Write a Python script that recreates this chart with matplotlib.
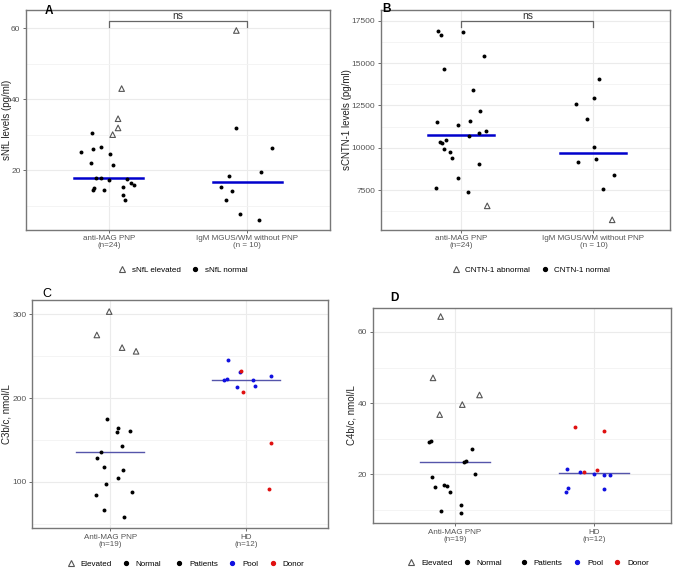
import matplotlib.pyplot as plt
from matplotlib.lines import Line2D
import numpy as np

plt.rcParams['font.family'] = ['Liberation Sans', 'DejaVu Sans']

# ---------- data ----------
# Panel A: sNfL (pg/ml)
A_CATS = ["anti-MAG PNP\n(n=24)", "IgM MGUS/WM without PNP\n(n = 10)"]
A_G1_TRI_X = [1.092, 1.066, 1.066, 1.027]
A_G1_TRI_Y = [43.0, 34.5, 31.9, 30.0]
A_G1_DOT_X = [0.876, 0.886, 0.944, 0.799, 1.005, 0.867, 1.029, 0.910, 0.944, 0.998,
              1.133, 1.160, 1.184, 1.100, 0.893, 0.886, 0.964, 1.104, 1.114]
A_G1_DOT_Y = [30.6, 26.0, 26.6, 25.0, 24.4, 22.1, 21.5, 17.7, 17.7, 17.2,
              17.5, 16.3, 15.7, 15.3, 14.8, 14.3, 14.3, 13.0, 11.6]
A_G2_TRI_X = [1.922]
A_G2_TRI_Y = [59.4]
A_G2_DOT_X = [1.920, 2.177, 2.104, 1.871, 1.813, 1.891, 1.850, 1.947, 2.087]
A_G2_DOT_Y = [32.0, 26.3, 19.4, 18.2, 15.1, 14.2, 11.6, 7.5, 5.8]
A_MEDIANS = [17.7, 16.6]

# Panel B: sCNTN-1 (pg/ml)
B_CATS = A_CATS
B_G1_TRI_X = [1.195]
B_G1_TRI_Y = [6580]
B_G1_DOT_X = [0.823, 0.841, 1.013, 1.172, 0.871, 1.091, 1.142, 0.815, 1.066, 0.970,
              1.187, 1.134, 1.058, 0.881, 0.835, 0.853, 0.871, 0.914, 0.929, 1.134,
              0.975, 0.805, 1.051]
B_G1_DOT_Y = [16915, 16640, 16817, 15403, 14676, 13438, 12181, 11532, 11611, 11375,
              10982, 10864, 10707, 10491, 10334, 10295, 9941, 9745, 9430, 9077,
              8193, 7662, 7407]
B_G2_TRI_X = [2.142]
B_G2_TRI_Y = [5757]
B_G2_DOT_X = [2.043, 2.005, 1.868, 1.952, 2.005, 1.881, 2.020, 2.157, 2.076]
B_G2_DOT_Y = [14047, 12967, 12613, 11729, 10039, 9195, 9371, 8409, 7603]
B_MEDIANS = [10766, 9686]

# Panel C: C3b/c (nmol/L)
C_CATS = ["Anti-MAG PNP\n(n=19)", "HD\n(n=12)"]
C_TRI_X = [0.993, 0.902, 1.088, 1.191]
C_TRI_Y = [303.2, 275.3, 260.2, 255.8]
C_DOT_X = [0.980, 1.061, 1.051, 1.147, 1.088, 0.934, 0.902, 0.953, 1.091, 1.056,
           0.971, 1.164, 0.897, 0.956, 1.105]
C_DOT_Y = [175.3, 164.9, 159.0, 160.6, 143.4, 135.5, 128.7, 117.5, 114.3, 104.8,
           98.0, 88.4, 84.9, 66.1, 58.2]
C_POOL_X = [1.865, 1.838, 1.858, 1.931, 2.054, 2.069, 2.186, 1.953]
C_POOL_Y = [245.8, 221.9, 222.3, 213.1, 221.9, 213.9, 226.3, 231.1]
C_DONOR_X = [1.963, 1.978, 2.184, 2.174]
C_DONOR_Y = [232.3, 207.6, 146.6, 91.2]
C_MEDIANS = [135.5, 221.9]

# Panel D: C4b/c (nmol/L)
D_CATS = C_CATS
D_TRI_X = [0.897, 0.842, 0.890, 1.053, 1.177]
D_TRI_Y = [64.3, 47.1, 36.8, 39.6, 42.3]
D_DOT_X = [0.813, 0.825, 1.122, 1.079, 1.062, 1.141, 0.832, 0.859, 0.918, 0.945,
           0.962, 1.046, 0.897, 1.046]
D_DOT_Y = [29.1, 29.3, 27.2, 23.9, 23.5, 20.0, 19.3, 16.5, 17.1, 16.9,
           15.2, 11.4, 9.8, 9.1]
D_POOL_X = [1.808, 1.815, 1.801, 1.902, 1.998, 2.070, 2.118, 2.074]
D_POOL_Y = [21.5, 16.1, 15.1, 20.7, 20.0, 19.8, 19.8, 16.0]
D_DONOR_X = [1.863, 2.074, 1.930, 2.022]
D_DONOR_Y = [33.2, 32.2, 20.7, 21.2]
D_MEDIANS = [23.5, 20.3]

TRI_KW = dict(marker='^', s=16, facecolors='none', edgecolors='#555555', linewidths=0.8, zorder=3)
DOT_KW = dict(marker='o', s=8, linewidths=0, zorder=3)
POOL_C = '#1010e0'
DONOR_C = '#e01010'
TICK_C = '#555555'


def style_axes(ax, cats, ylabel, xlim, ylim, yticks, yminor, label_x):
    ax.set_xlim(*xlim)
    ax.set_ylim(*ylim)
    ax.set_xticks([1, 2])
    ax.set_xticklabels(cats, fontsize=5.8, color=TICK_C, linespacing=1.0)
    ax.set_yticks(yticks)
    ax.set_yticks(yminor, minor=True)
    ax.tick_params(axis='y', which='minor', length=0)
    ax.tick_params(axis='both', which='major', labelsize=6, colors=TICK_C,
                   length=2.5, width=0.6, pad=1.5)
    ax.tick_params(axis='x', labelsize=5.8)
    ax.set_ylabel(ylabel, fontsize=7, color='#222222')
    ax.yaxis.set_label_coords(label_x, 0.5)
    ax.grid(True, which='major', color='#ebebeb', linewidth=0.8)
    ax.grid(True, which='minor', axis='y', color='#f3f3f3', linewidth=0.6)
    ax.set_axisbelow(True)
    for sp in ax.spines.values():
        sp.set_color('#777777')
        sp.set_linewidth(1.0)


def medians(ax, vals, color, lw):
    for i, v in enumerate(vals):
        ax.plot([i + 1 - 0.25, i + 1 + 0.25], [v, v], color=color, lw=lw, zorder=2)


def bracket(ax, y, drop):
    ax.plot([1, 1, 2, 2], [y - drop, y, y, y - drop], color='#666666', lw=0.9, zorder=4, clip_on=False)
    ax.text(1.5, y, 'ns', ha='center', va='bottom', fontsize=7.5, color='#333333')


fig = plt.figure(figsize=(6.76, 5.72), dpi=100)

# ----- A -----
axA = fig.add_axes([0.0385, 0.598, 0.4497, 0.3846])
axA.scatter(A_G1_DOT_X + A_G2_DOT_X, A_G1_DOT_Y + A_G2_DOT_Y, color='black', **DOT_KW)
axA.scatter(A_G1_TRI_X + A_G2_TRI_X, A_G1_TRI_Y + A_G2_TRI_Y, **TRI_KW)
medians(axA, A_MEDIANS, '#0000cc', 1.8)
bracket(axA, 62.2, 1.7)
style_axes(axA, A_CATS, 'sNfL levels (pg/ml)', (0.4, 2.6), (3.1, 65.2),
           [20, 40, 60], [10, 30, 50], -0.045)
fig.text(0.066, 0.992, 'A', fontsize=8.5, fontweight='bold', va='top')

# ----- B -----
axB = fig.add_axes([0.5636, 0.598, 0.4275, 0.3846])
axB.scatter(B_G1_DOT_X + B_G2_DOT_X, B_G1_DOT_Y + B_G2_DOT_Y, color='black', **DOT_KW)
axB.scatter(B_G1_TRI_X + B_G2_TRI_X, B_G1_TRI_Y + B_G2_TRI_Y, **TRI_KW)
medians(axB, B_MEDIANS, '#0000cc', 1.8)
bracket(axB, 17505, 354)
style_axes(axB, B_CATS, 'sCNTN-1 levels (pg/ml)', (0.39, 2.58), (5160, 18130),
           [7500, 10000, 12500, 15000, 17500], [6250, 8750, 11250, 13750, 16250], -0.1)
fig.text(0.565, 0.994, 'B', fontsize=8.5, fontweight='bold', va='top')

# ----- C -----
axC = fig.add_axes([0.0473, 0.0769, 0.4379, 0.3986])
axC.scatter(C_DOT_X, C_DOT_Y, color='black', **DOT_KW)
axC.scatter(C_TRI_X, C_TRI_Y, **TRI_KW)
axC.scatter(C_POOL_X, C_POOL_Y, color=POOL_C, **DOT_KW)
axC.scatter(C_DONOR_X, C_DONOR_Y, color=DONOR_C, **DOT_KW)
medians(axC, C_MEDIANS, '#5555aa', 1.0)
style_axes(axC, C_CATS, 'C3b/c, nmol/L', (0.424, 2.605), (45, 317),
           [100, 200, 300], [50, 150, 250], -0.07)
fig.text(0.063, 0.476, 'C', fontsize=9, va='bottom')

# ----- D -----
axD = fig.add_axes([0.5518, 0.0857, 0.4408, 0.3759])
axD.scatter(D_DOT_X, D_DOT_Y, color='black', **DOT_KW)
axD.scatter(D_TRI_X, D_TRI_Y, **TRI_KW)
axD.scatter(D_POOL_X, D_POOL_Y, color=POOL_C, **DOT_KW)
axD.scatter(D_DONOR_X, D_DONOR_Y, color=DONOR_C, **DOT_KW)
medians(axD, D_MEDIANS, '#5555aa', 1.0)
style_axes(axD, D_CATS, 'C4b/c, nmol/L', (0.41, 2.556), (6.4, 66.7),
           [20, 40, 60], [10, 30, 50], -0.055)
fig.text(0.578, 0.469, 'D', fontsize=8.5, fontweight='bold', va='bottom')


# ----- legends -----
def tri_h(label):
    return Line2D([], [], marker='^', ls='none', markersize=4, markerfacecolor='none',
                  markeredgecolor='#555555', markeredgewidth=0.8, label=label)


def dot_h(label, c='black'):
    return Line2D([], [], marker='o', ls='none', markersize=2.8, color=c, label=label)


LEG_KW = dict(frameon=False, fontsize=5.8, handletextpad=0.6, columnspacing=1.2,
              handlelength=1.2, borderaxespad=0)

fig.legend(handles=[tri_h('sNfL elevated'), dot_h('sNfL normal')], ncol=2,
           loc='center', bbox_to_anchor=(0.27, 0.528), **LEG_KW)
fig.legend(handles=[tri_h('CNTN-1 abnormal'), dot_h('CNTN-1 normal')], ncol=2,
           loc='center', bbox_to_anchor=(0.785, 0.528), **LEG_KW)

for x0, x1, y in [(0.168, 0.354, 0.014), (0.672, 0.864, 0.016)]:
    fig.legend(handles=[tri_h('Elevated'), dot_h('Normal')], ncol=2,
               loc='center', bbox_to_anchor=(x0, y), **LEG_KW)
    fig.legend(handles=[dot_h('Patients'), dot_h('Pool', POOL_C), dot_h('Donor', DONOR_C)],
               ncol=3, loc='center', bbox_to_anchor=(x1, y), **LEG_KW)

fig.savefig('out.png', dpi=100)
